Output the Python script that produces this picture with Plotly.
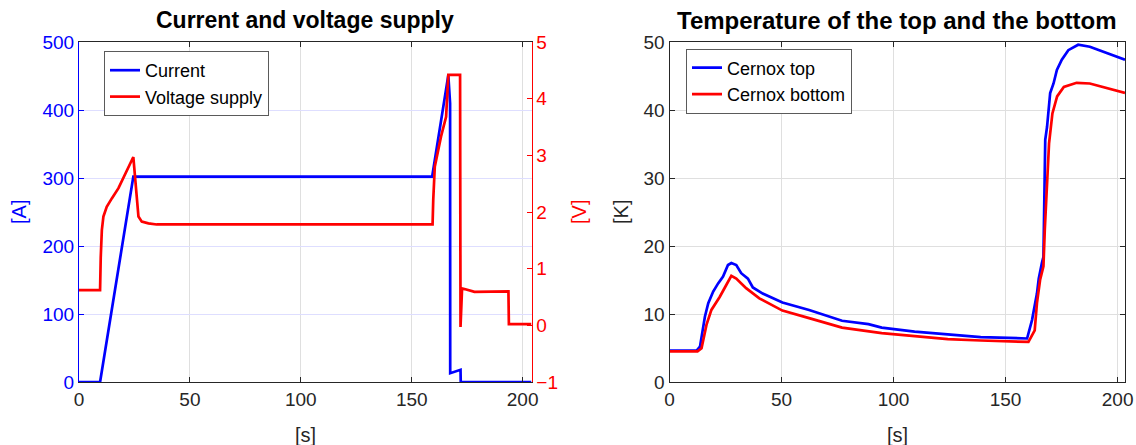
import plotly.graph_objects as go

# ---- Data: left plot (Current & Voltage supply) ----
t_current = [0, 9.5, 24.5, 159.2, 166.5, 167.3, 167.35, 172.0, 172.1, 204]
current_A = [0, 0, 302, 302, 451, 410, 13, 18, 0, 0]

t_voltage = [0, 9.5, 9.8, 10.3, 11.0, 12.5, 14.8, 17.8, 24.5, 25.0, 25.6, 26.1, 26.8,
             28.3, 31.3, 35, 159.4, 159.7, 160.4, 163.2, 165.5, 166.5, 171.8, 172.0,
             172.7, 173.8, 178.3, 193.6, 193.8, 204]
voltage_V = [0.62, 0.62, 1.2, 1.68, 1.92, 2.09, 2.24, 2.42, 2.97, 2.74, 2.39, 2.09, 1.92,
             1.83, 1.80, 1.78, 1.78, 2.21, 2.80, 3.33, 3.68, 4.42, 4.42, -0.03,
             0.65, 0.64, 0.59, 0.60, 0.02, 0.02]

# ---- Data: right plot (temperatures) ----
t_top = [0, 12.1, 13.6, 15.8, 17.3, 19.5, 21.7, 23.9, 26.1, 27.6, 29.8, 32, 35, 37.2,
         41.6, 50.4, 62.3, 77, 88.8, 94.7, 109.4, 124.2, 138.9, 159.6, 161.8, 164,
         164.8, 166.2, 166.9, 167.7, 168.5, 169.9, 171.4, 172.9, 175.1, 178, 182.4,
         187.6, 203.3]
T_top = [4.6, 4.6, 5.2, 9.6, 11.6, 13.3, 14.5, 15.5, 17.2, 17.5, 17.2, 16.0, 15.2, 13.9,
         13.0, 11.7, 10.6, 9.0, 8.5, 8.0, 7.4, 7.0, 6.6, 6.4, 9.1, 13.0,
         15.2, 17.5, 18.4, 35.6, 37.5, 42.5, 43.9, 45.9, 47.4, 48.8, 49.6,
         49.3, 47.4]

t_bottom = [0, 12.5, 14.3, 16.5, 18.7, 22.4, 25.4, 27.6, 29.8, 34.2, 40.1, 50.4, 62.3,
            77, 94.7, 109.4, 124.2, 138.9, 160.2, 163, 164, 165.4, 166.9, 167.5, 168.4,
            169.4, 170.9, 173, 176, 181.7, 187.6, 203.3]
T_bottom = [4.5, 4.5, 4.95, 8.4, 10.6, 12.5, 14.3, 15.6, 15.2, 13.8, 12.3, 10.5, 9.4,
            8.0, 7.2, 6.7, 6.3, 6.1, 5.9, 7.6, 11.6, 15.0, 17.0, 22.4, 29.7,
            35.1, 39.5, 42.0, 43.4, 44.0, 43.9, 42.5]

x_ticks = [0, 50, 100, 150, 200]
A_ticks = [0, 100, 200, 300, 400, 500]
V_ticks = [-1, 0, 1, 2, 3, 4, 5]
K_ticks = [0, 10, 20, 30, 40, 50]

BLUE = "rgb(0,0,255)"
RED = "rgb(255,0,0)"
DARK = "rgb(38,38,38)"
GRID = "rgb(223,223,223)"
GRID_B = "rgb(222,222,255)"
FONT = "Liberation Sans, Arial, sans-serif"
W, H = 1136, 445
TS = 19  # tick font size
LS = 18  # legend font size

def px(x):
    return x / W

def py(y):
    return 1 - y / H

fig = go.Figure()
fig.add_trace(go.Scatter(x=t_current, y=current_A, name="Current", mode="lines",
                         line=dict(color=BLUE, width=2.7), xaxis="x", yaxis="y", legend="legend"))
fig.add_trace(go.Scatter(x=t_voltage, y=voltage_V, name="Voltage supply", mode="lines",
                         line=dict(color=RED, width=2.7), xaxis="x", yaxis="y2", legend="legend"))
fig.add_trace(go.Scatter(x=t_top, y=T_top, name="Cernox top", mode="lines",
                         line=dict(color=BLUE, width=2.7), xaxis="x2", yaxis="y3", legend="legend2"))
fig.add_trace(go.Scatter(x=t_bottom, y=T_bottom, name="Cernox bottom", mode="lines",
                         line=dict(color=RED, width=2.7), xaxis="x2", yaxis="y3", legend="legend2"))

ydom = [py(382), py(42)]

fig.update_layout(
    width=W, height=H,
    margin=dict(l=0, r=0, t=0, b=0, autoexpand=False),
    paper_bgcolor="white", plot_bgcolor="white",
    font=dict(family=FONT, size=TS, color=DARK),
    xaxis=dict(domain=[px(79), px(531.5)], range=[0, 204], tickvals=x_ticks,
               ticks="inside", ticklen=5, tickcolor=DARK, showline=True, linecolor=DARK,
               linewidth=1, mirror="ticks", showgrid=True, gridcolor=GRID, zeroline=False,
               tickfont=dict(family=FONT, size=TS, color=DARK), anchor="y", automargin=False),
    yaxis=dict(domain=ydom, range=[0, 500], tickvals=A_ticks, ticks="inside", ticklen=5,
               tickcolor=BLUE, showline=True, linecolor=BLUE, linewidth=1,
               showgrid=True, gridcolor=GRID_B, zeroline=False,
               tickfont=dict(family=FONT, size=TS, color=BLUE), anchor="x", automargin=False),
    yaxis2=dict(range=[-1, 5], tickvals=V_ticks, overlaying="y", side="right", anchor="x",
                ticks="inside", ticklen=5, tickcolor=RED, showline=True, linecolor=RED,
                linewidth=1, showgrid=False, zeroline=False,
                tickfont=dict(family=FONT, size=TS, color=RED), automargin=False),
    xaxis2=dict(domain=[px(669.5), px(1125)], range=[0, 203.3], tickvals=x_ticks,
                ticks="inside", ticklen=5, tickcolor=DARK, showline=True, linecolor=DARK,
                linewidth=1, mirror="ticks", showgrid=True, gridcolor=GRID, zeroline=False,
                tickfont=dict(family=FONT, size=TS, color=DARK), anchor="y3", automargin=False),
    yaxis3=dict(domain=ydom, range=[0, 50], tickvals=K_ticks, ticks="inside", ticklen=5,
                tickcolor=DARK, showline=True, linecolor=DARK, linewidth=1, mirror="ticks",
                showgrid=True, gridcolor=GRID, zeroline=False,
                tickfont=dict(family=FONT, size=TS, color=DARK), anchor="x2", automargin=False),
    legend=dict(x=px(104), y=py(51), xanchor="left", yanchor="top", bgcolor="white",
                bordercolor="rgb(90,90,90)", borderwidth=1,
                font=dict(family=FONT, size=LS, color="black"), tracegroupgap=0),
    legend2=dict(x=px(686), y=py(48.5), xanchor="left", yanchor="top", bgcolor="white",
                 bordercolor="rgb(90,90,90)", borderwidth=1,
                 font=dict(family=FONT, size=LS, color="black"), tracegroupgap=0),
    showlegend=True,
)

ann = [
    dict(text="<b>Current and voltage supply</b>", x=px(305), y=py(20), font=dict(size=23, color="black")),
    dict(text="<b>Temperature of the top and the bottom</b>", x=px(897), y=py(20), font=dict(size=24, color="black")),
    dict(text="[A]", x=px(19), y=py(212), textangle=-90, font=dict(size=20, color=BLUE)),
    dict(text="[V]", x=px(579), y=py(212), textangle=-90, font=dict(size=20, color=RED)),
    dict(text="[K]", x=px(621), y=py(212), textangle=-90, font=dict(size=20, color=DARK)),
    dict(text="[s]", x=px(305), y=py(435), font=dict(size=20, color=DARK)),
    dict(text="[s]", x=px(897), y=py(435), font=dict(size=20, color=DARK)),
]
for a in ann:
    a.update(xref="paper", yref="paper", showarrow=False, xanchor="center", yanchor="middle")
    a["font"]["family"] = FONT
fig.update_layout(annotations=ann)

fig.write_html("out.html", config={"displayModeBar": False},
               post_script="document.body.style.margin='0px';document.body.style.overflow='hidden';")
